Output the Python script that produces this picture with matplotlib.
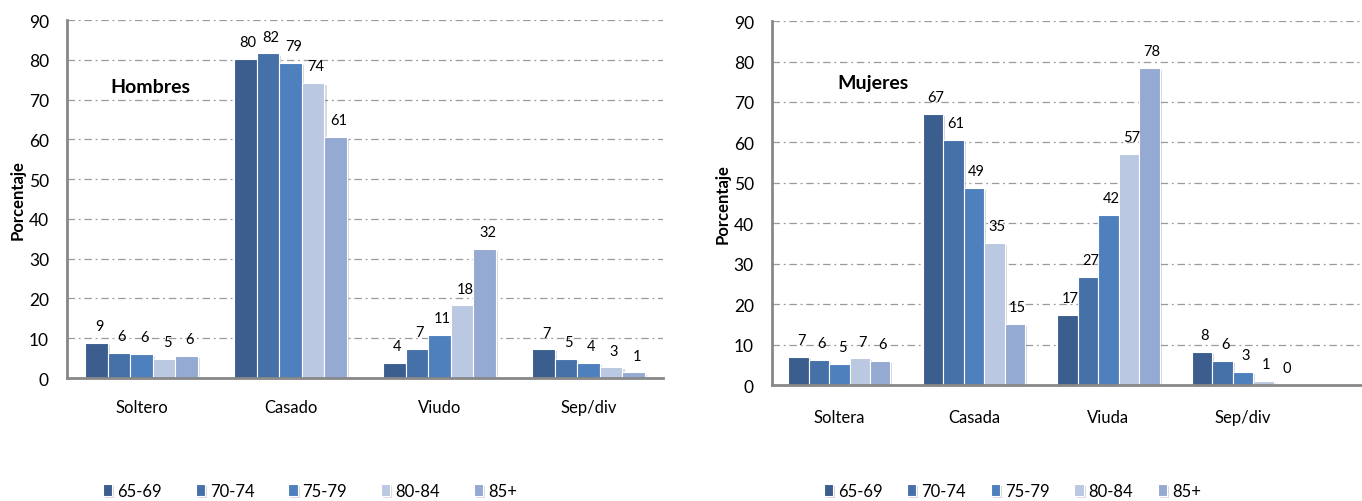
import numpy as np
import matplotlib
matplotlib.use("Agg")
import matplotlib.pyplot as plt
import matplotlib.patheffects as pe

plt.rcParams['font.family'] = ['Lato', 'DejaVu Sans']

# datos (porcentaje) por grupo de edad
edades = ["65-69", "70-74", "75-79", "80-84", "85+"]
colores = ["#3B5E8E", "#4571A8", "#4E80BD", "#BAC8E1", "#95AAD2"]

cat_h = ["Soltero", "Casado", "Viudo", "Sep/div"]
h_6569 = [8.8, 80.2, 3.8, 7.2]
h_7074 = [6.3, 81.6, 7.3, 4.8]
h_7579 = [6.0, 79.2, 10.8, 3.8]
h_8084 = [4.8, 74.2, 18.3, 2.7]
h_85 = [5.6, 60.6, 32.4, 1.4]

cat_m = ["Soltera", "Casada", "Viuda", "Sep/div"]
m_6569 = [6.9, 67.1, 17.3, 8.2]
m_7074 = [6.3, 60.6, 26.7, 6.0]
m_7579 = [5.3, 48.8, 42.1, 3.3]
m_8084 = [6.6, 35.1, 57.1, 1.1]
m_85 = [6.0, 15.2, 78.4, 0.2]


def panel(ax, cats, series, titulo, tx, ty, xmax, cat_pad):
    x = np.arange(len(cats))
    w = 0.152
    for i, vals in enumerate(series):
        pos = x + (i - 2) * w
        bars = ax.bar(pos, vals, w, color=colores[i], edgecolor="white",
                      linewidth=0.8, label=edades[i], zorder=3)
        for b in bars:
            b.set_path_effects([pe.SimplePatchShadow(offset=(1.5, -1.5), alpha=0.18),
                                pe.Normal()])
        for p, v in zip(pos, vals):
            ax.annotate(f"{v:.0f}", (p, v), xytext=(2, 7), textcoords="offset points",
                        ha="center", va="bottom", fontsize=10.5, zorder=4)
    ax.set_ylim(0, 90)
    ax.set_xlim(-0.5, xmax)
    ax.set_yticks(range(0, 91, 10))
    ax.set_xticks(x)
    ax.set_xticklabels(cats, fontsize=12)
    ax.tick_params(axis="y", length=0, pad=13, labelsize=12.5)
    ax.tick_params(axis="x", length=0, pad=cat_pad)
    for yv in range(10, 91, 10):
        ax.axhline(yv, color="#9A9A9A", linestyle=(0, (6, 3, 1.5, 3)), linewidth=0.9, zorder=1)
    for s in ["top", "right"]:
        ax.spines[s].set_visible(False)
    for s in ["left", "bottom"]:
        ax.spines[s].set_color("#888888")
        ax.spines[s].set_linewidth(2)
    ax.spines["bottom"].set_zorder(5)
    ax.set_ylabel("Porcentaje", fontsize=12, fontweight="bold", labelpad=2)
    ax.text(tx, ty, titulo, fontsize=14, fontweight="bold", ha="center", va="center")


fig = plt.figure(figsize=(13.62, 5.02), dpi=100)
ax1 = fig.add_axes([0.0492, 0.245, 0.4376, 0.713])
ax2 = fig.add_axes([0.5668, 0.231, 0.4332, 0.725])

panel(ax1, cat_h, [h_6569, h_7074, h_7579, h_8084, h_85], "Hombres", 0.06, 73.4, 3.5, 15)
panel(ax2, cat_m, [m_6569, m_7074, m_7579, m_8084, m_85], "Mujeres", 0.25, 74.7, 3.884, 17)

for ax, x0, sp in [(ax1, 0.0647, 2.03), (ax2, 0.5937, 1.49)]:
    h, l = ax.get_legend_handles_labels()
    fig.legend(h, l, loc="center left", bbox_to_anchor=(x0, 0.02), ncol=5, frameon=False,
               fontsize=12, handlelength=0.55, handleheight=0.75, handletextpad=0.3,
               columnspacing=sp)

fig.savefig("out.png", dpi=100)
